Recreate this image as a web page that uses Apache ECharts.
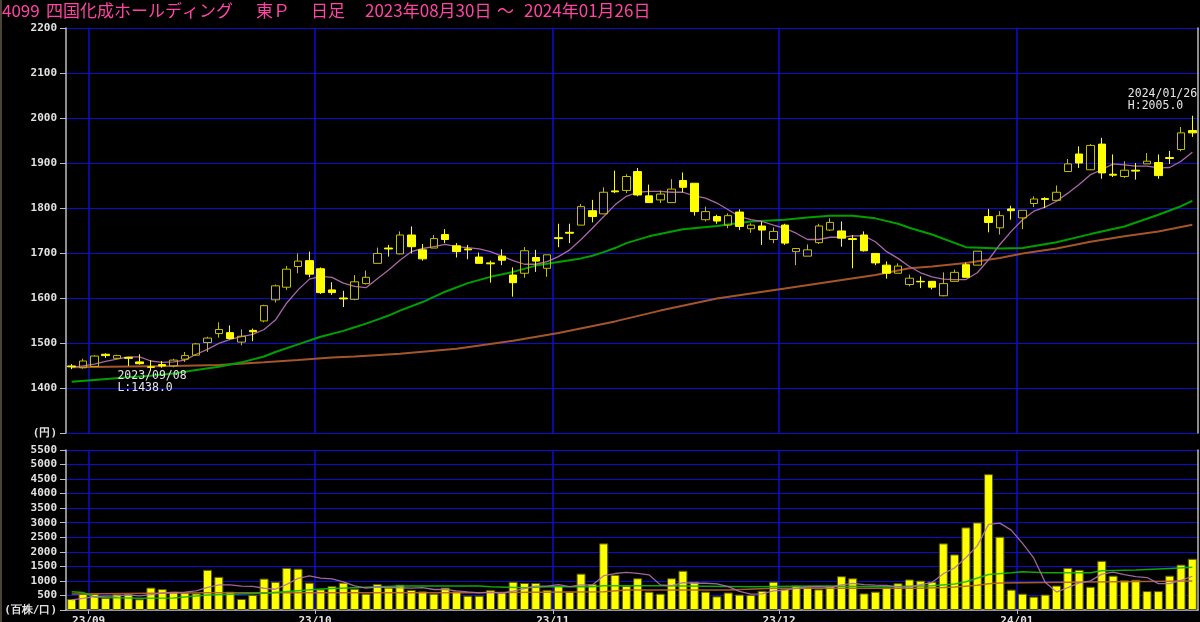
<!DOCTYPE html>
<html><head><meta charset="utf-8">
<script src="https://cdn.jsdelivr.net/npm/echarts@6/dist/echarts.min.js"></script>
<style>html,body{margin:0;padding:0;background:#000;}#c{width:1200px;height:622px;}</style>
</head><body><div id="c"></div>
<script>
// ---------- DATA ----------
const dates = ['2023/08/30','2023/08/31',
'2023/09/01','2023/09/04','2023/09/05','2023/09/06','2023/09/07','2023/09/08','2023/09/11','2023/09/12','2023/09/13','2023/09/14','2023/09/15','2023/09/19','2023/09/20','2023/09/21','2023/09/22','2023/09/25','2023/09/26','2023/09/27','2023/09/28','2023/09/29',
'2023/10/02','2023/10/03','2023/10/04','2023/10/05','2023/10/06','2023/10/10','2023/10/11','2023/10/12','2023/10/13','2023/10/16','2023/10/17','2023/10/18','2023/10/19','2023/10/20','2023/10/23','2023/10/24','2023/10/25','2023/10/26','2023/10/27','2023/10/30','2023/10/31',
'2023/11/01','2023/11/02','2023/11/06','2023/11/07','2023/11/08','2023/11/09','2023/11/10','2023/11/13','2023/11/14','2023/11/15','2023/11/16','2023/11/17','2023/11/20','2023/11/21','2023/11/22','2023/11/24','2023/11/27','2023/11/28','2023/11/29','2023/11/30',
'2023/12/01','2023/12/04','2023/12/05','2023/12/06','2023/12/07','2023/12/08','2023/12/11','2023/12/12','2023/12/13','2023/12/14','2023/12/15','2023/12/18','2023/12/19','2023/12/20','2023/12/21','2023/12/22','2023/12/25','2023/12/26','2023/12/27','2023/12/28','2023/12/29',
'2024/01/04','2024/01/05','2024/01/09','2024/01/10','2024/01/11','2024/01/12','2024/01/15','2024/01/16','2024/01/17','2024/01/18','2024/01/19','2024/01/22','2024/01/23','2024/01/24','2024/01/25','2024/01/26'];

const openP  = [1449,1445,1448,1475,1466,1468,1458,1447,1452,1449, 1464,1473,1501,1521,1523,1502,1528,1549,1596,1624,
                1670,1683,1665,1618,1600,1597,1632,1677,1711,1698, 1740,1707,1711,1741,1716,1709,1691,1678,1693,1651,
                1655,1690,1666,1734,1746,1762,1794,1787,1838,1839, 1881,1827,1818,1812,1861,1855,1774,1781,1762,1791,
                1754,1760,1730,1762,1703,1693,1723,1751,1749,1732, 1740,1699,1673,1655,1630,1637,1637,1605,1637,1674,
                1673,1781,1756,1798,1778,1810,1821,1817,1881,1920, 1885,1942,1875,1870,1884,1898,1901,1912,1930,1972];
const closeP = [1447,1460,1471,1472,1472,1466,1454,1446,1449,1462, 1472,1498,1511,1530,1510,1515,1525,1583,1627,1664,
                1682,1653,1612,1612,1598,1636,1646,1699,1709,1740, 1714,1687,1732,1730,1703,1707,1677,1676,1684,1634,
                1705,1682,1696,1732,1744,1803,1781,1835,1836,1870, 1829,1812,1831,1842,1846,1792,1792,1771,1783,1759,
                1762,1751,1748,1722,1710,1707,1760,1768,1733,1730, 1705,1678,1655,1671,1644,1636,1624,1632,1657,1646,
                1704,1768,1783,1794,1795,1820,1819,1835,1898,1900, 1939,1878,1873,1884,1882,1904,1872,1910,1967,1967];
const lowP   = [1442,1443,1448,1467,1464,1449,1452,1438,1445,1446, 1458,1471,1480,1512,1508,1495,1504,1546,1590,1618,
                1655,1646,1609,1607,1580,1595,1630,1676,1692,1697, 1699,1683,1711,1722,1690,1686,1677,1634,1673,1603,
                1645,1658,1647,1713,1722,1762,1768,1787,1833,1833, 1826,1812,1811,1812,1835,1783,1770,1765,1755,1751,
                1745,1718,1722,1718,1673,1693,1720,1749,1714,1666, 1703,1673,1643,1655,1626,1622,1619,1604,1637,1646,
                1673,1746,1741,1774,1753,1802,1800,1817,1881,1889, 1884,1865,1869,1867,1863,1898,1865,1898,1926,1958];
const highP  = [1453,1465,1473,1477,1474,1468,1475,1462,1460,1465, 1480,1500,1514,1546,1539,1530,1532,1585,1630,1671,
                1699,1703,1668,1635,1616,1651,1661,1712,1718,1748, 1759,1720,1740,1753,1722,1718,1701,1683,1708,1668,
                1713,1707,1696,1765,1765,1809,1818,1846,1883,1875, 1889,1852,1839,1864,1879,1855,1803,1785,1788,1797,
                1766,1770,1757,1765,1710,1719,1765,1777,1770,1740, 1748,1699,1681,1677,1652,1648,1637,1657,1663,1679,
                1704,1798,1793,1805,1795,1826,1824,1850,1909,1937, 1942,1956,1919,1904,1900,1922,1919,1927,1980,2005];

// volume in 百株
const volumes = [380,550,550,420,540,540,370,770,720,630, 600,570,1380,1140,630,380,520,1080,970,1450,
                 1420,940,710,820,940,730,560,890,770,870, 690,640,560,770,640,490,490,690,600,970,
                 930,930,690,840,630,1250,890,2290,1210,830, 1090,630,560,1090,1350,970,630,470,600,530,
                 520,660,970,720,840,780,710,840,1160,1090, 570,630,770,920,1050,1010,970,2290,1910,2840,
                 3010,4670,2520,700,560,460,530,840,1450,1380, 800,1690,1180,1020,1040,650,650,1180,1560,1760];

// moving averages
const ma5Price = [1446,1449,1453,1459,1464,1469,1469,1460,1457,1458, 1462,1475,1486,1499,1508,1514,1519,1530,1551,1589,
                  1618,1642,1648,1646,1633,1626,1623,1643,1662,1684, 1703,1710,1714,1719,1714,1712,1709,1703,1693,1683,
                  1675,1675,1681,1692,1707,1730,1755,1781,1807,1826, 1835,1837,1837,1835,1835,1827,1822,1811,1796,1781,
                  1774,1770,1762,1755,1744,1730,1730,1735,1735,1738, 1738,1725,1703,1688,1670,1656,1647,1642,1641,1641,
                  1656,1685,1719,1748,1774,1793,1802,1815,1833,1852, 1874,1885,1898,1896,1893,1893,1889,1890,1904,1924];
const ma25Price = [[0,1414],[2,1418],[5,1424],[7,1427],[9,1432],[11,1440],[13,1447],[15,1457],[17,1470],[18,1480],
                   [20,1497],[22,1514],[24,1527],[25,1535],[26,1543],[27,1552],[28,1561],[29,1572],[31,1591],[33,1614],
                   [35,1633],[37,1647],[39,1658],[41,1672],[43,1680],[45,1688],[46,1694],[47,1702],[48,1711],[49,1722],
                   [51,1737],[54,1753],[57,1760],[60,1770],[63,1774],[65,1779],[67,1783],[69,1783],[71,1777],[73,1765],
                   [74,1756],[76,1741],[79,1713],[82,1710],[84,1711],[87,1724],[90,1742],[93,1759],[96,1785],[98,1804],[99,1816]];
const ma75Price = [[0,1446],[5,1448],[9,1449],[13,1451],[17,1457],[20,1462],[23,1468],[25,1470],[29,1476],[34,1487],
                   [39,1505],[43,1522],[48,1548],[52,1572],[57,1599],[63,1621],[67,1636],[71,1651],[74,1666],[76,1670],
                   [79,1678],[82,1689],[84,1699],[87,1710],[90,1725],[93,1737],[96,1748],[99,1763]];
const ma5Vol = [345,400,458,475,487,519,483,526,586,604, 615,657,780,865,865,821,810,748,714,879,
                1087,1171,1098,1069,966,828,753,789,778,764, 755,771,705,705,659,620,590,615,581,647,
                734,821,821,869,801,865,858,1178,1254,1294, 1262,1209,864,839,943,920,920,901,803,638,
                547,554,654,680,741,794,803,776,862,913, 872,856,842,794,787,874,942,1247,1446,1803,
                2203,2942,2988,2746,2290,1780,952,616,767,931, 1000,1233,1302,1215,1146,1116,908,908,1016,1160];
const ma25Vol = [[0,630],[1,600],[2,450],[4,420],[6,400],[9,410],[12,515],[17,572],[20,664],[22,721],[26,778],[29,824],
                 [36,824],[37,801],[40,766],[42,801],[46,801],[47,835],[52,835],[60,801],[66,824],[72,801],[76,835],
                 [78,892],[79,972],[81,1219],[83,1281],[84,1316],[86,1281],[90,1281],[91,1350],[94,1373],[97,1430],[99,1466]];
const ma75Vol = [[0,550],[12,595],[35,595],[47,629],[49,686],[58,686],[62,744],[75,744],[77,770],[78,790],[79,820],
                 [80,850],[81,900],[82,925],[90,960],[99,1000]];

const priceAxis = {min:1300, max:2200, step:100, unit:'(円)'};
const volAxis = {min:0, max:5500, step:500, unit:'(百株/口)'};
const titleParts = ['4099','四国化成ホールディング','東Ｐ','日足','2023年08月30日','～','2024年01月26日'];
const lowNote = {idx:7, value:1438, text:'2023/09/08\nL:1438.0'};
const highNote = {idx:99, value:2005, text:'2024/01/26\nH:2005.0'};

// ---------- CHART ----------
const monthStarts = [];
dates.forEach((d,i)=>{ if(i>0 && d.slice(0,7)!==dates[i-1].slice(0,7)) monthStarts.push(i); });
const boundaries = monthStarts.map(m=>m-0.5);
const candleData = dates.map((d,i)=>[openP[i], closeP[i], lowP[i], highP[i]]);
const N = dates.length;

const BLUE = '#0c0cd0';
const AXC = '#bcbcbc';
const PINK = '#ff45a3';
const lab = {color:'#e2e2e2', fontFamily:'DejaVu Sans Mono', fontWeight:'bold', fontSize:11};
const titleX = [2,46,256,311,365,497,524];

// month separator lines, snapped to whole pixels
const monthLines = (xi, yi, ymin) => ({type:'custom', xAxisIndex:xi, yAxisIndex:yi, z:0, silent:true,
  data: boundaries.map(b=>[b, ymin]),
  renderItem:(params, api)=>{
    const cs = params.coordSys;
    const p = api.coord([api.value(0), api.value(1)]);
    const x = Math.round(p[0]);
    return {type:'line', shape:{x1:x, y1:cs.y, x2:x, y2:cs.y+cs.height},
            style:{stroke:BLUE, lineWidth:1.5}};
  }});

const noLine = {show:true, onZero:false, lineStyle:{color:AXC,width:1.5}};

const chart = echarts.init(document.getElementById('c'));
chart.setOption({
  backgroundColor:'#000',
  animation:false,
  grid:[{left:66,right:2,top:28,height:405,containLabel:false,outerBoundsMode:'none'},
        {left:66,right:2,top:450,height:160,containLabel:false,outerBoundsMode:'none'}],
  xAxis:[
    {type:'category', gridIndex:0, data:dates, boundaryGap:true,
     axisLine:{show:false}, axisTick:{show:false}, axisLabel:{show:false}, splitLine:{show:false}},
    {type:'category', gridIndex:1, data:dates, boundaryGap:true,
     axisLine:{show:true, onZero:false, lineStyle:{color:AXC,width:1.5}},
     axisTick:{show:false}, axisLabel:{show:false}, splitLine:{show:false}},
    {type:'value', gridIndex:0, min:-0.5, max:N-0.5,
     axisLine:{show:false, onZero:false}, axisTick:{show:false}, axisLabel:{show:false}, splitLine:{show:false}},
    {type:'value', gridIndex:1, min:-0.5, max:N-0.5, position:'bottom',
     axisLine:{show:false, onZero:false},
     axisTick:{show:true, customValues:boundaries, length:4, lineStyle:{color:AXC}},
     axisLabel:Object.assign({show:true, customValues:boundaries, margin:6,
       formatter:(v)=>{const d=dates[Math.round(v+0.5)]; return d ? d.slice(2,4)+'/'+d.slice(5,7) : '';}}, lab),
     splitLine:{show:false}}
  ],
  yAxis:[
    {type:'value', gridIndex:0, min:priceAxis.min, max:priceAxis.max, interval:priceAxis.step, position:'left',
     axisLine:noLine,
     axisTick:{show:true, length:6, lineStyle:{color:AXC}},
     axisLabel:Object.assign({margin:9, formatter:(v)=> v===priceAxis.min ? priceAxis.unit : String(v)}, lab),
     splitLine:{show:true, lineStyle:{color:BLUE,width:1}}},
    {type:'value', gridIndex:1, min:volAxis.min, max:volAxis.max, interval:volAxis.step, position:'left',
     axisLine:noLine,
     axisTick:{show:true, length:6, lineStyle:{color:AXC}},
     axisLabel:Object.assign({margin:9, formatter:(v)=> v===volAxis.min ? volAxis.unit : String(v)}, lab),
     splitLine:{show:true, lineStyle:{color:BLUE,width:1}}},
    {type:'value', gridIndex:0, min:priceAxis.min, max:priceAxis.max, interval:priceAxis.step, position:'right',
     axisLine:noLine, axisTick:{show:false}, axisLabel:{show:false}, splitLine:{show:false}},
    {type:'value', gridIndex:1, min:volAxis.min, max:volAxis.max, interval:volAxis.step, position:'right',
     axisLine:noLine, axisTick:{show:false}, axisLabel:{show:false}, splitLine:{show:false}}
  ],
  graphic: [{type:'rect', left:0, top:0, shape:{width:2,height:622}, style:{fill:'#4d4238'}}].concat(
    titleParts.map((t,k)=>({type:'text', left:titleX[k], top:2,
      style:{text:t, fill:PINK, fontSize:17, fontFamily:'"Noto Sans CJK JP"'}}))),
  series:[
    monthLines(2,0,priceAxis.min),
    monthLines(3,1,volAxis.min),
    {type:'line', xAxisIndex:0, yAxisIndex:0, data:ma75Price, symbol:'none', silent:true, z:1,
     lineStyle:{color:'#a4552b', width:2}},
    {type:'line', xAxisIndex:0, yAxisIndex:0, data:ma25Price, symbol:'none', silent:true, z:1,
     lineStyle:{color:'#00a000', width:2}},
    {type:'line', xAxisIndex:0, yAxisIndex:0, data:ma5Price, symbol:'none', silent:true, z:1,
     lineStyle:{color:'#a867a8', width:1.3}},
    {type:'candlestick', xAxisIndex:0, yAxisIndex:0, data:candleData, barWidth:8, z:3,
     itemStyle:{color:'rgba(0,0,0,0)', color0:'#ffff00', borderColor:'#c4bc00', borderColor0:'#ffff00', borderWidth:1},
     markPoint:{symbol:'circle', symbolSize:1, silent:true, itemStyle:{color:'rgba(0,0,0,0)'},
       label:{show:true, color:'#e6e6e6', fontFamily:'DejaVu Sans Mono', fontSize:11.5, lineHeight:12,
              align:'left', verticalAlign:'top'},
       data:[
         {coord:[dates[lowNote.idx], lowNote.value], label:{position:[-33,0], formatter:lowNote.text}},
         {coord:[dates[highNote.idx], highNote.value], label:{position:[-64,-27], formatter:highNote.text}}
       ]}},
    {type:'bar', xAxisIndex:1, yAxisIndex:1, data:volumes, barWidth:9, z:2,
     itemStyle:{color:'#ffff00', borderColor:'#5c5c00', borderWidth:1}},
    {type:'line', xAxisIndex:1, yAxisIndex:1, data:ma75Vol, symbol:'none', silent:true, z:4,
     lineStyle:{color:'#b5652f', width:1.5, opacity:0.9}},
    {type:'line', xAxisIndex:1, yAxisIndex:1, data:ma25Vol, symbol:'none', silent:true, z:4,
     lineStyle:{color:'#10b810', width:1.5, opacity:0.9}},
    {type:'line', xAxisIndex:1, yAxisIndex:1, data:ma5Vol, symbol:'none', silent:true, z:4,
     lineStyle:{color:'#b070b0', width:1.3, opacity:0.9}}
  ]
});
</script></body></html>
